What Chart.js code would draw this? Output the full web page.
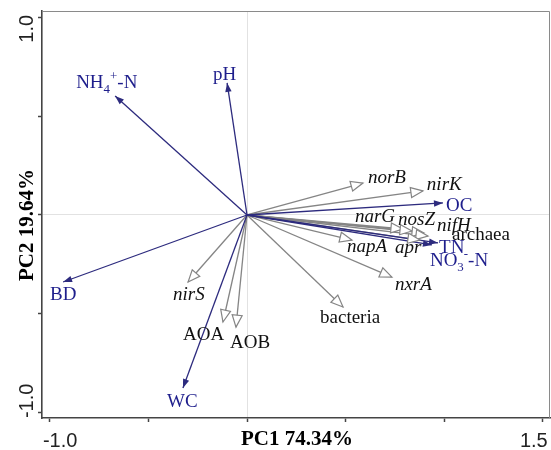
<!DOCTYPE html>
<html>
<head>
<meta charset="utf-8">
<script src="https://cdn.jsdelivr.net/npm/chart.js@4.4.1/dist/chart.umd.min.js"></script>
<style>
  html, body { margin: 0; padding: 0; background: #fff; }
  #wrap { width: 551px; height: 450px; }
</style>
</head>
<body>
<div id="wrap"><canvas id="myChart" width="551" height="450"></canvas></div>
<script>
// soil properties (blue arrows)
const envNames = ['NH4+-N', 'pH', 'BD', 'WC', 'OC', 'TN', 'NO3--N'];
const envPC1 = [-0.669, -0.101, -0.933, -0.325, 0.994, 0.969, 0.938];
const envPC2 = [0.604, 0.670, -0.340, -0.878, 0.061, -0.142, -0.152];

// genes / microbes (grey arrows)
const geneNames = ['norB', 'nirK', 'narG', 'nosZ', 'nifH', 'archaea', 'napA', 'apr', 'nxrA', 'bacteria', 'nirS', 'AOA', 'AOB'];
const genePC1 = [0.588, 0.892, 0.791, 0.837, 0.898, 0.918, 0.532, 0.877, 0.735, 0.487, -0.299, -0.122, -0.056];
const genePC2 = [0.162, 0.122, -0.071, -0.081, -0.091, -0.107, -0.127, -0.127, -0.315, -0.467, -0.340, -0.543, -0.569];

// axes
const xTicks = [-1.0, -0.5, 0, 0.5, 1.0, 1.5];
const yTicks = [-1.0, -0.5, 0, 0.5, 1.0];
const xTickLabels = ['-1.0', '', '', '', '', '1.5'];
const yTickLabels = ['-1.0', '', '', '', '1.0'];
const xTitle = 'PC1 74.34%';
const yTitle = 'PC2 19.64%';

// ---- styles ----
const BLUE_LINE = '#2d2b7e';
const BLUE_TEXT = '#1e1e8c';
const GREY_LINE = '#858585';
const SERIF = '"Liberation Serif", "Times New Roman", serif';
const SANS = '"Liberation Sans", Arial, sans-serif';

// label offsets from the arrow tip, in px (left edge, baseline)
const envLabelOff = [[-39, -8], [-14, -3], [-13, 18], [-16, 19], [3, 8], [1, 10], [-2, 21]];
const geneLabelOff = [[5, 0], [4, -1], [-48, -7], [-14, -6], [13, -2], [24, 4], [-5, 12], [-25, 13], [3, 13], [-23, 16], [-15, 18], [-40, 18], [-6, 21]];
const romanGenes = ['archaea', 'bacteria', 'AOA', 'AOB'];

// sub / superscript pieces
const richLabels = {
  'NH4+-N': [['NH', ''], ['4', 'sub'], ['+', 'sup'], ['-N', '']],
  'NO3--N': [['NO', ''], ['3', 'sub'], ['-', 'sup'], ['-N', '']]
};

function drawRich(ctx, text, x, y, size, italic) {
  var parts = richLabels[text] || [[text, '']];
  var cx = x;
  parts.forEach(function(p) {
    var fs = p[1] ? size * 0.68 : size;
    var dy = p[1] === 'sub' ? size * 0.25 : (p[1] === 'sup' ? -size * 0.42 : 0);
    ctx.font = (italic ? 'italic ' : '') + fs + 'px ' + SERIF;
    ctx.fillText(p[0], cx, y + dy);
    cx += ctx.measureText(p[0]).width;
  });
}

var datasets = [];
envNames.forEach(function(n, i) {
  datasets.push({
    label: n, kind: 'env', idx: i,
    data: [{x: 0, y: 0}, {x: envPC1[i], y: envPC2[i]}],
    showLine: true, borderColor: BLUE_LINE, borderWidth: 1.3, pointRadius: 0
  });
});
geneNames.forEach(function(n, i) {
  datasets.push({
    label: n, kind: 'gene', idx: i,
    data: [{x: 0, y: 0}, {x: genePC1[i], y: genePC2[i]}],
    showLine: true, borderColor: GREY_LINE, borderWidth: 1.3, pointRadius: 0
  });
});

// arrow heads + labels
const arrowPlugin = {
  id: 'arrowPlugin',
  afterDatasetsDraw: function(chart) {
    var ctx = chart.ctx;
    var metas = chart.getSortedVisibleDatasetMetas();
    // grey first, blue on top
    ['gene', 'env'].forEach(function(kind) {
      metas.forEach(function(meta) {
        var ds = chart.data.datasets[meta.index];
        if (ds.kind !== kind) return;
        var p0 = meta.data[0], p1 = meta.data[1];
        var a = Math.atan2(p1.y - p0.y, p1.x - p0.x);
        ctx.save();
        ctx.translate(p1.x, p1.y);
        ctx.rotate(a);
        ctx.beginPath();
        if (kind === 'env') {
          ctx.moveTo(0, 0);
          ctx.lineTo(-9, -3.2);
          ctx.lineTo(-9, 3.2);
          ctx.closePath();
          ctx.fillStyle = BLUE_LINE;
          ctx.fill();
        } else {
          ctx.moveTo(0, 0);
          ctx.lineTo(-12, -5);
          ctx.lineTo(-12, 5);
          ctx.closePath();
          ctx.fillStyle = '#fff';
          ctx.fill();
          ctx.lineWidth = 1.2;
          ctx.strokeStyle = GREY_LINE;
          ctx.stroke();
        }
        ctx.restore();
      });
    });

    // labels
    ctx.save();
    ctx.textAlign = 'left';
    ctx.textBaseline = 'alphabetic';
    metas.forEach(function(meta) {
      var ds = chart.data.datasets[meta.index];
      var p1 = meta.data[1];
      if (ds.kind === 'env') {
        var o = envLabelOff[ds.idx];
        ctx.fillStyle = BLUE_TEXT;
        drawRich(ctx, ds.label, p1.x + o[0], p1.y + o[1], 19, false);
      } else {
        var g = geneLabelOff[ds.idx];
        ctx.fillStyle = '#111';
        drawRich(ctx, ds.label, p1.x + g[0], p1.y + g[1], 19, romanGenes.indexOf(ds.label) < 0);
      }
    });
    ctx.restore();
  },
  afterDraw: function(chart) {
    var ctx = chart.ctx;
    var area = chart.chartArea;
    var xs = chart.scales.x, ys = chart.scales.y;
    ctx.save();
    // top and right frame
    ctx.strokeStyle = '#8a8a8a';
    ctx.lineWidth = 1;
    ctx.beginPath();
    ctx.moveTo(area.left, area.top + 0.5);
    ctx.lineTo(area.right - 0.5, area.top + 0.5);
    ctx.lineTo(area.right - 0.5, area.bottom);
    ctx.stroke();

    // tick labels
    ctx.fillStyle = '#222';
    ctx.font = '20px ' + SANS;
    ctx.textBaseline = 'alphabetic';
    xTicks.forEach(function(v, i) {
      if (!xTickLabels[i]) return;
      var px = xs.getPixelForValue(v);
      if (i === 0) { ctx.textAlign = 'left'; ctx.fillText(xTickLabels[i], px - 7, 447); }
      else { ctx.textAlign = 'right'; ctx.fillText(xTickLabels[i], px + 5, 447); }
    });
    yTicks.forEach(function(v, i) {
      if (!yTickLabels[i]) return;
      var py = ys.getPixelForValue(v);
      ctx.save();
      ctx.translate(33, py);
      ctx.rotate(-Math.PI / 2);
      if (i === 0) { ctx.textAlign = 'left'; ctx.fillText(yTickLabels[i], -6, 0); }
      else { ctx.textAlign = 'right'; ctx.fillText(yTickLabels[i], 3, 0); }
      ctx.restore();
    });

    // axis titles
    ctx.fillStyle = '#000';
    ctx.font = 'bold 21px ' + SERIF;
    ctx.textAlign = 'center';
    ctx.fillText(xTitle, (area.left + area.right) / 2 + 1, 445);
    ctx.save();
    ctx.translate(33, 225);
    ctx.rotate(-Math.PI / 2);
    ctx.fillText(yTitle, 0, 0);
    ctx.restore();
    ctx.restore();
  }
};

function zeroGrid(c) {
  return c.tick && c.tick.value === 0 ? '#e2e2e2' : 'rgba(0,0,0,0)';
}

var ctx = document.getElementById('myChart').getContext('2d');
var biplot = new Chart(ctx, {
  type: 'scatter',
  data: { datasets: datasets },
  plugins: [arrowPlugin],
  options: {
    responsive: false,
    animation: false,
    devicePixelRatio: 1,
    layout: { padding: { top: 11, right: 1, left: 0, bottom: 0 } },
    plugins: {
      legend: { display: false },
      tooltip: { enabled: false },
      title: { display: false }
    },
    scales: {
      x: {
        type: 'linear',
        min: -1.04,
        max: 1.537,
        afterBuildTicks: function(s) { s.ticks = xTicks.map(function(v) { return {value: v}; }); },
        afterFit: function(s) { s.height = 32; },
        ticks: { display: false },
        grid: { color: zeroGrid, lineWidth: 1, drawTicks: true, tickLength: 4, tickColor: '#444', tickWidth: 1.5 },
        border: { display: true, color: '#444', width: 1.6 }
      },
      y: {
        type: 'linear',
        min: -1.03,
        max: 1.035,
        afterBuildTicks: function(s) { s.ticks = yTicks.map(function(v) { return {value: v}; }); },
        afterFit: function(s) { s.width = 42; },
        ticks: { display: false },
        grid: { color: zeroGrid, lineWidth: 1, drawTicks: true, tickLength: 4, tickColor: '#444', tickWidth: 1.5 },
        border: { display: true, color: '#444', width: 1.6 }
      }
    }
  }
});
</script>
</body>
</html>
